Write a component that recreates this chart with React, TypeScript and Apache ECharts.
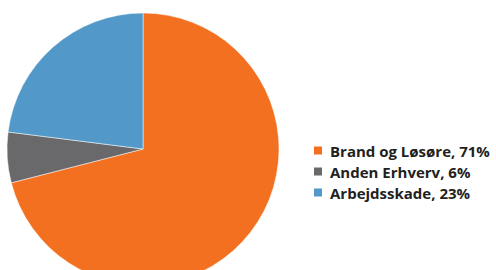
import React, { useEffect, useRef } from "react";
import * as echarts from "echarts";

const categories = ["Brand og Løsøre", "Anden Erhverv", "Arbejdsskade"];
const values = [71, 6, 23];
const colors = ["#F37021", "#69696B", "#5299C9"];

export default function App() {
  const ref = useRef<HTMLDivElement>(null);
  useEffect(() => {
    if (!ref.current) return;
    const chart = echarts.init(ref.current, null, { renderer: "svg" });
    chart.setOption({
      animation: false,
      legend: {
        orient: "vertical",
        left: 307,
        top: 138,
        padding: 5,
        itemWidth: 10,
        itemHeight: 10,
        itemGap: 6,
        icon: "rect",
        selectedMode: false,
        formatter: (name: string) => {
          const i = categories.indexOf(name);
          return `${name}, ${values[i]}%`;
        },
        textStyle: {
          fontFamily: "Open Sans",
          fontWeight: "bold",
          fontSize: 15,
          lineHeight: 14,
          color: "#231F20",
          padding: [0, 0, 0, 2],
        },
      },
      series: [
        {
          type: "pie",
          center: [143, 149],
          radius: 136,
          startAngle: 90,
          clockwise: true,
          label: { show: false },
          labelLine: { show: false },
          silent: true,
          itemStyle: { borderColor: "#ffffff", borderWidth: 0.5 },
          data: categories.map((c, i) => ({
            name: c,
            value: values[i],
            itemStyle: { color: colors[i] },
          })),
        },
      ],
    });
    return () => chart.dispose();
  }, []);
  return <div ref={ref} style={{ width: 496, height: 270, position: "absolute", left: 0, top: 0 }} />;
}
